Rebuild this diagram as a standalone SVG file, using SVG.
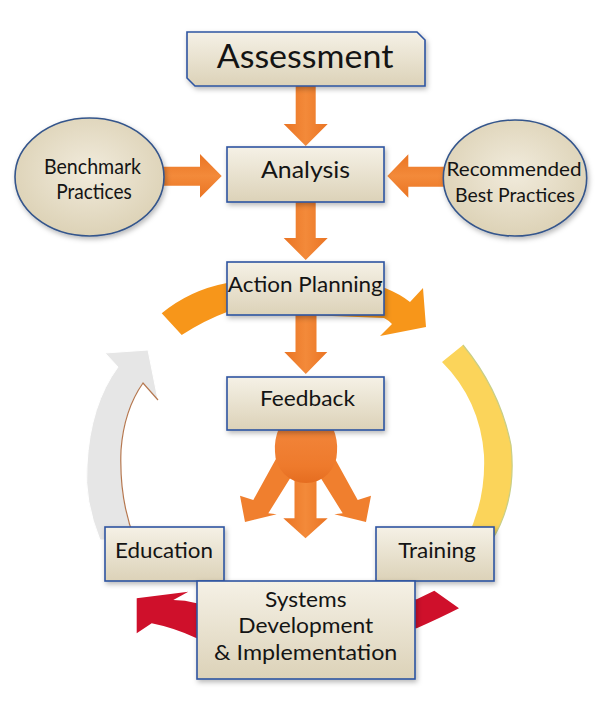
<svg xmlns="http://www.w3.org/2000/svg" width="606" height="718" viewBox="0 0 606 718">
<defs>
<style>
.box{fill:url(#boxg);stroke:#2E54A1;stroke-width:1.6;filter:url(#sh)}
.ell{fill:url(#ellg);stroke:#34558B;stroke-width:1.6;filter:url(#sh)}
.t{font-family:Lato,"Open Sans","Liberation Sans",sans-serif;fill:#141414;text-anchor:middle}
.oarr{fill:url(#og)}
.oarrh{fill:url(#ogv)}
.red{fill:#CF102B}
</style>
<linearGradient id="boxg" x1="0" y1="0" x2="0" y2="1">
<stop offset="0" stop-color="#F5F1E6"/>
<stop offset="1" stop-color="#DCD2B8"/>
</linearGradient>
<radialGradient id="ellg" cx="0.5" cy="0.45" r="0.6">
<stop offset="0" stop-color="#F1EBDC"/>
<stop offset="1" stop-color="#DBD0B3"/>
</radialGradient>
<linearGradient id="og" x1="0" y1="0" x2="1" y2="0">
<stop offset="0" stop-color="#EA7423"/>
<stop offset="0.5" stop-color="#F38A3A"/>
<stop offset="1" stop-color="#EA7423"/>
</linearGradient>
<linearGradient id="ogv" x1="0" y1="0" x2="0" y2="1">
<stop offset="0" stop-color="#EA7423"/>
<stop offset="0.5" stop-color="#F38A3A"/>
<stop offset="1" stop-color="#EA7423"/>
</linearGradient>
<linearGradient id="hub" x1="0" y1="0" x2="0" y2="1">
<stop offset="0" stop-color="#F2853A"/>
<stop offset="0.7" stop-color="#EE7A2C"/>
<stop offset="1" stop-color="#E56D20"/>
</linearGradient>
<filter id="sh" x="-10%" y="-10%" width="125%" height="130%">
<feDropShadow dx="1.5" dy="2.5" stdDeviation="2.5" flood-color="#000" flood-opacity="0.28"/>
</filter>
</defs>
<rect width="606" height="718" fill="#FFFFFF"/>

<g id="connectors">
<path d="M161.7,313.3 Q190,290 227,283 L385,288 Q400,294 410,302 L423,288 L426,327 L380,336 L392,324 Q388,320 384,318 L227,312 Q205,320 181.7,335 Z" fill="#F7961A"/>
<path d="M100,540 Q84,500 87,465 Q90,405 118,367 L105,353 L148,350 L158,400 L143,383 Q124,410 121,450 Q119,500 135,540 Z" fill="#E6E6E6" stroke="#FFFFFF" stroke-width="1"/>
<path d="M158,400 L143,383 Q124,410 121,450 Q119,500 135,540" fill="none" stroke="#B5774F" stroke-width="1.2"/>
<path d="M463,345 Q500,390 511,445 Q517,500 492,540 L466,540 Q486,500 484,455 Q480,400 442,362 Z" fill="#FBD45A"/>
<path d="M463,345 Q500,390 511,445 Q517,500 492,540" fill="none" stroke="#C9CE86" stroke-width="1.2"/>
<path d="M210,604 L196.7,603.3 Q185,600 173.3,600 L188.3,591.7 L136.7,598.3 L136.7,633.3 L151.7,623.3 Q175,628 196.7,638.3 L210,640 Z" class="red"/>
<path d="M405,599 L416.7,599.3 L434.3,590.7 L459,608.3 Q440,618 416.7,628.3 L405,628 Z" class="red"/>
<path d="M295.7,86 L315.7,86 L315.7,124 L327.7,124 L305.7,146 L283.7,124 L295.7,124 Z" class="oarr"/>
<path d="M295.7,202 L315.7,202 L315.7,238 L327.7,238 L305.7,260 L283.7,238 L295.7,238 Z" class="oarr"/>
<path d="M295.5,315 L316.5,315 L316.5,352 L327.3,352 L305.8,374 L284.3,352 L295.5,352 Z" class="oarr"/>
<path d="M158,166.7 L200,166.7 L200,154 L221.7,176 L200,197.7 L200,185.7 L158,185.7 Z" class="oarrh"/>
<path d="M450,166.7 L408.3,166.7 L408.3,154.3 L387.3,176 L408.3,197.7 L408.3,186.7 L450,186.7 Z" class="oarrh"/>
<path d="M277,457 L253.3,500 L240,495.7 L245,522 L276.7,514.3 L268.3,513.3 L294,472 Z" fill="#F07F2E"/>
<path d="M334,457 L357.7,500 L371,495.7 L366,522 L334.3,514.3 L342.7,513.3 L317,472 Z" fill="#F07F2E"/>
<path d="M294.5,465 L316.5,465 L316.5,518.3 L327.7,518.3 L305.5,538.3 L283.3,518.3 L294.5,518.3 Z" class="oarr"/>
<path d="M279,428 L333,428 Q338,440 337,452 A31,31 0 0 1 275,452 Q274,440 279,428 Z" fill="url(#hub)"/>
</g>

<g id="assessment">
<path class="box" d="M187,32 L417,32 L425,40 L425,86 L195,86 L187,78 Z"/>
<text class="t" x="305" y="68.3" font-size="32.5" textLength="176.7" lengthAdjust="spacingAndGlyphs">Assessment</text>
</g>
<g id="benchmark">
<ellipse class="ell" cx="89.5" cy="177" rx="74.5" ry="59"/>
<text class="t" x="92.5" y="174.3" font-size="21" textLength="97" lengthAdjust="spacingAndGlyphs">Benchmark</text>
<text class="t" x="94" y="199" font-size="21" textLength="75.7" lengthAdjust="spacingAndGlyphs">Practices</text>
</g>
<g id="recommended">
<ellipse class="ell" cx="515" cy="178" rx="71.7" ry="58"/>
<text class="t" x="514" y="175.5" font-size="20" textLength="135" lengthAdjust="spacingAndGlyphs">Recommended</text>
<text class="t" x="515" y="201.7" font-size="20" textLength="120" lengthAdjust="spacingAndGlyphs">Best Practices</text>
</g>
<g id="analysis">
<rect class="box" x="227" y="147" width="157" height="55"/>
<text class="t" x="305.5" y="178.3" font-size="22.3" textLength="89" lengthAdjust="spacingAndGlyphs">Analysis</text>
</g>
<g id="action-planning">
<rect class="box" x="227" y="262" width="157" height="53"/>
<text class="t" x="305.3" y="291.7" font-size="21" textLength="155" lengthAdjust="spacingAndGlyphs">Action Planning</text>
</g>
<g id="feedback">
<rect class="box" x="227" y="377" width="157" height="53"/>
<text class="t" x="307.5" y="406" font-size="21.4" textLength="95" lengthAdjust="spacingAndGlyphs">Feedback</text>
</g>
<g id="education">
<rect class="box" x="105" y="527" width="119" height="54"/>
<text class="t" x="164" y="557.7" font-size="21.5" textLength="98" lengthAdjust="spacingAndGlyphs">Education</text>
</g>
<g id="training">
<rect class="box" x="376" y="527" width="118" height="54"/>
<text class="t" x="437" y="558.3" font-size="21.5" textLength="77.7" lengthAdjust="spacingAndGlyphs">Training</text>
</g>
<g id="systems">
<rect class="box" x="197" y="581" width="218" height="98"/>
<text class="t" x="305.8" y="606.7" font-size="21.5" textLength="81.7" lengthAdjust="spacingAndGlyphs">Systems</text>
<text class="t" x="305.8" y="633.3" font-size="21.5" textLength="135" lengthAdjust="spacingAndGlyphs">Development</text>
<text class="t" x="305.7" y="660" font-size="21.5" textLength="183.3" lengthAdjust="spacingAndGlyphs">&amp; Implementation</text>
</g>
</svg>
